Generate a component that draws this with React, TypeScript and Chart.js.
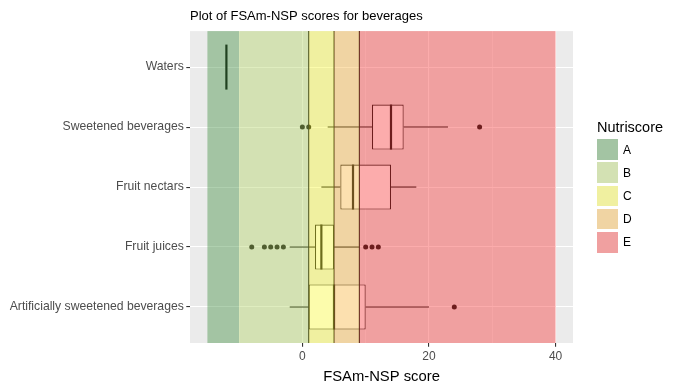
import React, { useEffect, useRef } from 'react';
import { Chart, registerables } from 'chart.js';

Chart.register(...registerables);

const FONT = '"Liberation Sans", Arial, sans-serif';

// Categories (top to bottom)
const categories = [
  'Waters',
  'Sweetened beverages',
  'Fruit nectars',
  'Fruit juices',
  'Artificially sweetened beverages',
];

// Box-plot statistics per category
const whiskerLow = [-12, 4, 3, -2, -2];
const q1 = [-12, 11, 6, 2, 1];
const medians = [-12, 14, 8, 3, 5];
const q3 = [-12, 16, 14, 5, 10];
const whiskerHigh = [-12, 23, 18, 9, 20];
const outliers: number[][] = [[], [0, 1, 28], [], [-8, -6, -5, -4, -3, 10, 11, 12], [24]];

// Nutriscore bands
const gradeLabels = ['A', 'B', 'C', 'D', 'E'];
const gradeStarts = [-15, -10, 1, 5, 9];
const gradeEnds = [-10, 1, 5, 9, 40];
const gradeColors = [
  'rgba(55,138,55,0.4)',
  'rgba(175,210,95,0.4)',
  'rgba(248,248,48,0.4)',
  'rgba(248,178,55,0.4)',
  'rgba(248,48,48,0.4)',
];
const thresholdLines = [1, 5, 9];

// Axis ticks
const xTicks = [-10, 0, 10, 20, 30, 40];
const xMin = -17.75;
const xMax = 42.75;

const boxPlugin = {
  id: 'boxExtras',
  beforeDraw(chart: any) {
    const { ctx, chartArea: a } = chart;
    ctx.save();
    ctx.fillStyle = '#ebebeb';
    ctx.fillRect(a.left, a.top, a.right - a.left, a.bottom - a.top);
    ctx.restore();
  },
  afterDatasetsDraw(chart: any) {
    const { ctx, chartArea: a } = chart;
    const xs = chart.scales.x;
    const ys = chart.scales.y;
    const meta = chart.getDatasetMeta(0);
    ctx.save();
    ctx.beginPath();
    ctx.rect(a.left, a.top, a.right - a.left, a.bottom - a.top);
    ctx.clip();
    const line = (x0: number, y0: number, x1: number, y1: number) => {
      ctx.beginPath();
      ctx.moveTo(x0, y0);
      ctx.lineTo(x1, y1);
      ctx.stroke();
    };
    categories.forEach((_, i) => {
      const el: any = meta.data[i];
      const yc = ys.getPixelForValue(i);
      const half = el.height / 2;
      ctx.strokeStyle = '#111111';
      ctx.lineWidth = 1.1;
      if (whiskerLow[i] < q1[i]) line(xs.getPixelForValue(whiskerLow[i]), yc, xs.getPixelForValue(q1[i]), yc);
      if (whiskerHigh[i] > q3[i]) line(xs.getPixelForValue(q3[i]), yc, xs.getPixelForValue(whiskerHigh[i]), yc);
      ctx.lineWidth = 2.2;
      const xm = xs.getPixelForValue(medians[i]);
      line(xm, yc - half, xm, yc + half);
    });
    ctx.strokeStyle = '#111111';
    ctx.lineWidth = 1.1;
    thresholdLines.forEach((v) => {
      const x = xs.getPixelForValue(v);
      line(x, a.top, x, a.bottom);
    });
    gradeStarts.forEach((s, i) => {
      const x0 = xs.getPixelForValue(s);
      const x1 = xs.getPixelForValue(gradeEnds[i]);
      ctx.fillStyle = gradeColors[i];
      ctx.fillRect(x0, a.top, x1 - x0, a.bottom - a.top);
    });
    ctx.restore();
  },
};

export default function App() {
  const canvasRef = useRef<HTMLCanvasElement | null>(null);

  useEffect(() => {
    document.body.style.margin = '0';
    const canvas = canvasRef.current;
    if (!canvas) return;
    const boxData = categories.map((_, i) => ({ x: [q1[i], q3[i]], y: i }));
    const outlierData: { x: number; y: number }[] = [];
    outliers.forEach((vals, i) => vals.forEach((v) => outlierData.push({ x: v, y: i })));

    const chart = new Chart(canvas, {
      type: 'bar',
      data: {
        datasets: [
          {
            type: 'bar',
            label: 'box',
            data: boxData as any,
            backgroundColor: '#ffffff',
            borderColor: '#111111',
            borderWidth: 1.1,
            borderSkipped: false,
            barPercentage: 0.75,
            categoryPercentage: 1,
          } as any,
          {
            type: 'scatter',
            label: 'outliers',
            data: outlierData as any,
            pointRadius: 2.5,
            pointBackgroundColor: '#111111',
            pointBorderWidth: 0,
            borderWidth: 0,
          } as any,
        ],
      },
      options: {
        indexAxis: 'y',
        responsive: false,
        animation: false,
        devicePixelRatio: 1,
        layout: { padding: { left: 0, right: 106, top: 0, bottom: 0 } },
        plugins: {
          legend: { display: false },
          tooltip: { enabled: false },
          title: {
            display: true,
            text: 'Plot of FSAm-NSP scores for beverages',
            align: 'start',
            fullSize: false,
            color: '#000000',
            font: { family: FONT, size: 13, weight: 'normal' },
            padding: { top: 8.5, bottom: 7 },
          },
        },
        scales: {
          x: {
            type: 'linear',
            min: xMin,
            max: xMax,
            offset: false,
            afterBuildTicks: (s: any) => {
              s.ticks = xTicks.map((v) => ({ value: v }));
            },
            afterFit: (s: any) => {
              s.height = 45;
            },
            ticks: {
              autoSkip: false,
              maxRotation: 0,
              color: '#4d4d4d',
              font: { family: FONT, size: 12 },
              padding: 3,
              callback: (v: any) => (Number(v) % 20 === 0 ? String(v) : ''),
            },
            grid: {
              color: '#ffffff',
              lineWidth: (c: any) => (c.tick && c.tick.value % 20 === 0 ? 1.1 : 0.55),
              tickLength: 3.7,
              tickWidth: 1.1,
              tickColor: (c: any) => (c.tick && c.tick.value % 20 === 0 ? '#333333' : 'rgba(0,0,0,0)'),
              offset: false,
            },
            border: { display: false },
            title: {
              display: true,
              text: 'FSAm-NSP score',
              color: '#000000',
              font: { family: FONT, size: 14.8 },
              padding: { top: 0, bottom: 2.5 },
            },
          },
          y: {
            type: 'linear',
            reverse: true,
            min: -0.6,
            max: 4.6,
            offset: false,
            afterBuildTicks: (s: any) => {
              s.ticks = categories.map((_, i) => ({ value: i }));
            },
            afterFit: (s: any) => {
              s.width = 190;
            },
            ticks: {
              autoSkip: false,
              color: '#4d4d4d',
              font: { family: FONT, size: 12.2 },
              padding: 2.5,
              callback: (v: any) => categories[Number(v)] ?? '',
            },
            grid: {
              color: '#ffffff',
              lineWidth: 1.1,
              tickLength: 3.7,
              tickWidth: 1.1,
              tickColor: '#333333',
              offset: false,
            },
            border: { display: false },
          },
        },
      } as any,
      plugins: [boxPlugin],
    });
    return () => chart.destroy();
  }, []);

  return (
    <div style={{ position: 'relative', width: 679, height: 388, background: '#ffffff', fontFamily: FONT }}>
      <canvas ref={canvasRef} width={679} height={388} style={{ display: 'block', width: 679, height: 388 }} />
      <div style={{ position: 'absolute', left: 597, top: 118, fontSize: 14.5, color: '#000', lineHeight: '18px', whiteSpace: 'nowrap' }}>
        Nutriscore
      </div>
      {gradeLabels.map((g, i) => (
        <div key={g} style={{ position: 'absolute', left: 597, top: 139 + i * 23.2, height: 21, display: 'flex', alignItems: 'center' }}>
          <div style={{ width: 21, height: 20.5, background: '#ebebeb', position: 'relative' }}>
            <div style={{ position: 'absolute', inset: 0, background: gradeColors[i] }} />
          </div>
          <span style={{ marginLeft: 5, fontSize: 12, color: '#000' }}>{g}</span>
        </div>
      ))}
    </div>
  );
}
